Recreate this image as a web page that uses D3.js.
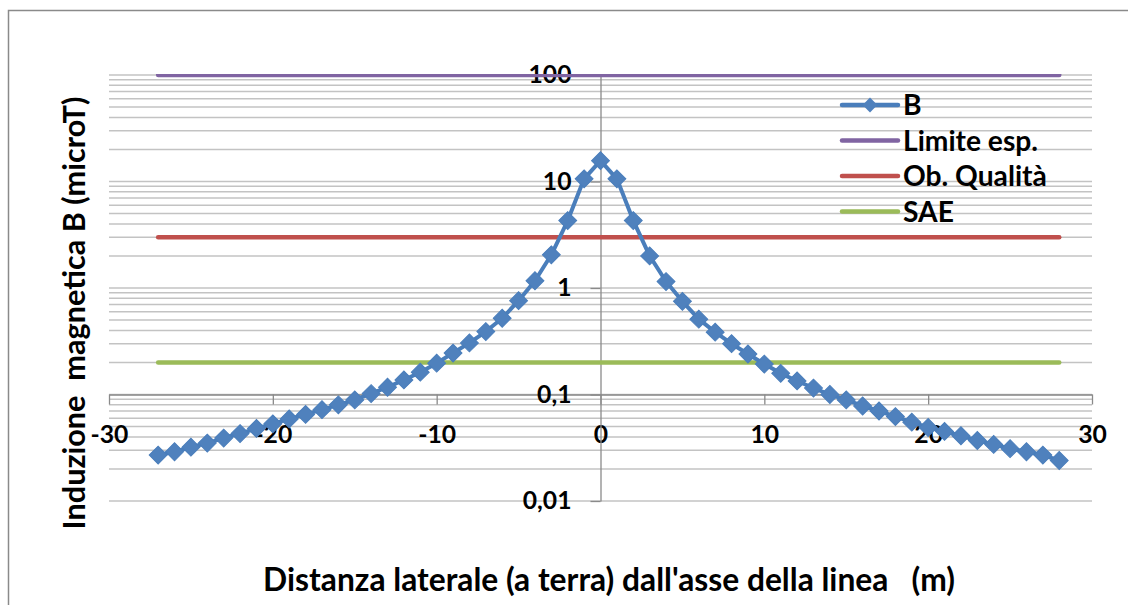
<!DOCTYPE html>
<html>
<head>
<meta charset="utf-8">
<script src="https://cdn.jsdelivr.net/npm/d3@7"></script>
<style>
  body { margin: 0; background: #fff; }
  text { font-family: Lato, "Liberation Sans", sans-serif; font-weight: bold; fill: #000; }
</style>
</head>
<body>
<div id="chart"></div>
<script>
// distance from the line axis (m)
const distances = [-27, -26, -25, -24, -23, -22, -21, -20, -19, -18, -17, -16, -15, -14,
  -13, -12, -11, -10, -9, -8, -7, -6, -5, -4, -3, -2, -1, 0,
  1, 2, 3, 4, 5, 6, 7, 8, 9, 10, 11, 12, 13, 14,
  15, 16, 17, 18, 19, 20, 21, 22, 23, 24, 25, 26, 27, 28];

// magnetic induction B (microT)
const bValues = [0.027, 0.029, 0.032, 0.035, 0.039, 0.043, 0.048, 0.053, 0.059, 0.065, 0.072, 0.080, 0.089, 0.102,
  0.117, 0.137, 0.162, 0.197, 0.245, 0.305, 0.39, 0.52, 0.76, 1.17, 2.05, 4.3, 10.6, 15.7,
  10.6, 4.3, 2.0, 1.15, 0.75, 0.51, 0.385, 0.30, 0.24, 0.193, 0.158, 0.134, 0.115, 0.100,
  0.089, 0.078, 0.070, 0.062, 0.055, 0.049, 0.045, 0.041, 0.037, 0.034, 0.031, 0.029, 0.027, 0.024];

const limiteEsp = 100;
const obQualita = 3;
const sae = 0.2;

const xTicks = [-30, -20, -10, 0, 10, 20, 30];
const yTicks = [0.01, 0.1, 1, 10, 100];

const seriesNames = ['B', 'Limite esp.', 'Ob. Qualità', 'SAE'];
const seriesColors = ['#4A7EBB', '#8064A2', '#C0504D', '#9BBB59'];

const width = 1128, height = 605;
const margin = { top: 75, right: 36, bottom: 104, left: 109 };

const svg = d3.select('#chart').append('svg')
  .attr('width', width)
  .attr('height', height);

svg.append('rect').attr('width', width).attr('height', height).attr('fill', '#fff');

// chart border
svg.append('rect')
  .attr('x', 8.5).attr('y', 10.5)
  .attr('width', width).attr('height', height)
  .attr('fill', 'none')
  .attr('stroke', '#8a8a8a')
  .attr('stroke-width', 1.5);

const x = d3.scaleLinear().domain([-30, 30]).range([margin.left, width - margin.right]);
const y = d3.scaleLog().domain([0.01, 100]).range([height - margin.bottom, margin.top]);

const itLocale = d3.formatLocale({ decimal: ',', thousands: '.', grouping: [3], currency: ['€', ''], minus: '-' });
const yFormat = itLocale.format('~g');
const xFormat = itLocale.format('d');

// scale the font so a sample text gets the wanted width
function fitSize(sel, sampleNode, target) {
  const w = sampleNode.getComputedTextLength();
  const cur = parseFloat(getComputedStyle(sampleNode).fontSize);
  sel.style('font-size', (cur * target / w).toFixed(2) + 'px');
}

// gridlines, major and minor
svg.append('g')
  .attr('class', 'grid')
  .selectAll('line')
  .data(y.ticks())
  .join('line')
  .attr('x1', x(-30)).attr('x2', x(30))
  .attr('y1', d => y(d)).attr('y2', d => y(d))
  .attr('stroke', '#c3c3c3')
  .attr('stroke-width', 1.5);

// x axis crosses at 0,1
const xAxis = svg.append('g')
  .attr('transform', `translate(0, ${y(0.1)})`)
  .call(d3.axisBottom(x).tickValues(xTicks).tickFormat(xFormat).tickSize(10).tickSizeOuter(0).tickPadding(21));

// y axis crosses at 0
const yAxis = svg.append('g')
  .attr('transform', `translate(${x(0)}, 0)`)
  .call(d3.axisLeft(y).tickValues(yTicks).tickFormat(yFormat).tickSize(10).tickSizeOuter(0).tickPadding(19));

[xAxis, yAxis].forEach(a => {
  a.select('.domain').attr('stroke', '#8a8a8a').attr('stroke-width', 1.3);
  a.selectAll('.tick line').attr('stroke', '#8a8a8a').attr('stroke-width', 1.3);
  a.selectAll('.tick text')
    .attr('fill', '#000')
    .style('font-family', 'Lato, "Liberation Sans", sans-serif')
    .style('font-weight', 'bold')
    .style('font-size', '24px');
});
const tickTexts = svg.selectAll('.tick text');
fitSize(tickTexts, yAxis.selectAll('.tick text').filter(d => d === 100).node(), 43);

// reference lines + B series, clipped to plot area
svg.append('clipPath').attr('id', 'plot-clip')
  .append('rect')
  .attr('x', 0).attr('y', margin.top - 1)
  .attr('width', width).attr('height', height);

const plot = svg.append('g').attr('clip-path', 'url(#plot-clip)');

const refLines = [limiteEsp, obQualita, sae];
refLines.forEach((v, i) => {
  const line = d3.line().x(d => x(d)).y(() => y(v));
  plot.append('path')
    .datum(distances)
    .attr('d', line)
    .attr('fill', 'none')
    .attr('stroke', seriesColors[i + 1])
    .attr('stroke-width', 4.5)
    .attr('stroke-linecap', 'round');
});

const bLine = d3.line()
  .x((d, i) => x(distances[i]))
  .y(d => y(d));

plot.append('path')
  .datum(bValues)
  .attr('d', bLine)
  .attr('fill', 'none')
  .attr('stroke', seriesColors[0])
  .attr('stroke-width', 4)
  .attr('stroke-linejoin', 'round');

const diamond = d3.symbol().type(d3.symbolSquare).size(160);
plot.selectAll('.marker')
  .data(bValues)
  .join('path')
  .attr('class', 'marker')
  .attr('d', diamond)
  .attr('transform', (d, i) => `translate(${x(distances[i])}, ${y(d)}) rotate(45)`)
  .attr('fill', '#4F81BD')
  .attr('stroke', '#4A7EBB')
  .attr('stroke-width', 1);

// legend
const legend = svg.append('g').attr('transform', 'translate(842, 105)');
seriesNames.forEach((name, i) => {
  const row = legend.append('g').attr('transform', `translate(0, ${i * 35.5})`);
  row.append('line')
    .attr('x1', 0).attr('x2', 56)
    .attr('stroke', seriesColors[i])
    .attr('stroke-width', 4.5)
    .attr('stroke-linecap', 'round');
  if (i === 0) {
    row.append('path')
      .attr('d', d3.symbol().type(d3.symbolSquare).size(110))
      .attr('transform', 'translate(28, 0) rotate(45)')
      .attr('fill', '#4F81BD');
  }
  row.append('text')
    .attr('class', 'legend-label')
    .attr('x', 61)
    .attr('dy', '0.36em')
    .style('font-size', '23px')
    .text(name);
});
const legendTexts = legend.selectAll('.legend-label');
fitSize(legendTexts, legendTexts.filter(d => false).node() || legendTexts.nodes()[1], 135);

// axis titles
const xTitle = svg.append('text')
  .attr('x', 609).attr('y', 591)
  .attr('text-anchor', 'middle')
  .style('font-size', '27px')
  .style('white-space', 'pre')
  .text("Distanza laterale (a terra) dall'asse della linea   (m)");
fitSize(xTitle, xTitle.node(), 692);

const yTitle = svg.append('text')
  .attr('transform', 'translate(85, 313) rotate(-90)')
  .attr('text-anchor', 'middle')
  .style('font-size', '27px')
  .style('white-space', 'pre')
  .text('Induzione  magnetica B (microT)');
fitSize(yTitle, yTitle.node(), 433);
</script>
</body>
</html>
